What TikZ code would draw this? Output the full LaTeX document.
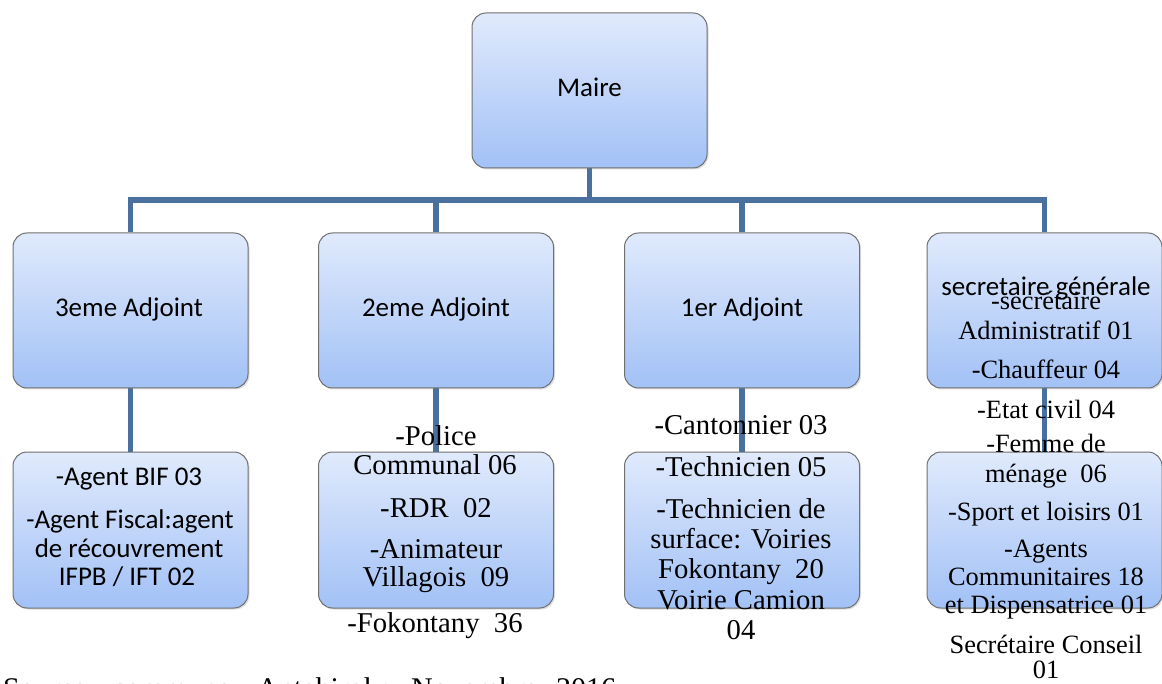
\documentclass[tikz,border=0pt]{standalone}
\usepackage{fontspec}
\setmainfont{Liberation Serif}
\newfontfamily\carl{Carlito}
\usetikzlibrary{shadows}
\definecolor{connc}{RGB}{74,112,160}
\definecolor{boxtop}{RGB}{224,234,252}
\definecolor{boxbot}{RGB}{162,193,246}
\definecolor{boxline}{RGB}{112,112,112}
\pgfdeclarelayer{bg}
\pgfsetlayers{bg,main}
\begin{document}
\begin{tikzpicture}[x=1pt,y=-1pt,
  box/.style={draw=boxline, line width=1pt, rounded corners=14pt,
    top color=boxtop, bottom color=boxbot,
    minimum width=235pt, minimum height=155pt, inner sep=0pt,
    drop shadow={opacity=0.25, shadow xshift=1.5pt, shadow yshift=-1.5pt}},
  conn/.style={draw=connc, line width=5.5pt},
  serif/.style={anchor=base, inner sep=0pt, font=\fontsize{28.7}{30}\selectfont},
  serifs/.style={anchor=base, inner sep=0pt, font=\fontsize{26.4}{28}\selectfont},
  srcfont/.style={anchor=base west, inner sep=0pt, font=\fontsize{30}{32}\selectfont},
  sans/.style={anchor=base, inner sep=0pt, font=\carl\fontsize{27}{29}\selectfont}]
\useasboundingbox (0,0) rectangle (1162,684);
\clip (0,0) rectangle (1162,684);
\begin{pgfonlayer}{bg}
  \fill[white] (0,0) rectangle (1162,684);
\end{pgfonlayer}

% boxes
\node[box] (maire) at (589.5,90.5) {};
\node[box] (a3) at (130.5,310.5) {};
\node[box] (a2) at (436,310.5) {};
\node[box] (a1) at (742,310.5) {};
\node[box] (sg) at (1044.5,310.5) {};
\node[box, minimum height=156pt] (c3) at (130.5,530) {};
\node[box, minimum height=156pt] (c2) at (436,530) {};
\node[box, minimum height=156pt] (c1) at (742,530) {};
\node[box, minimum height=156pt] (c4) at (1044.5,530) {};

% connectors
\coordinate (bus) at (589.5,200);
\begin{pgfonlayer}{bg}
  \draw[conn] (maire.south) -- (bus);
  \draw[conn] (a3.north) |- (bus) -| (sg.north);
  \draw[conn] (a2.north) -- (a2.north |- bus);
  \draw[conn] (a1.north) -- (a1.north |- bus);
  \draw[conn] (a3.south) -- (c3.north);
  \draw[conn] (a2.south) -- (c2.north);
  \draw[conn] (a1.south) -- (c1.north);
  \draw[conn] (sg.south) -- (c4.north);
\end{pgfonlayer}

% titles
\node[sans] (tmaire) at (589.5,97) {Maire};
\node[sans] (ta3) at (129,317) {3eme Adjoint};
\node[sans] (ta2) at (436,317) {2eme Adjoint};
\node[sans] (ta1) at (742,317) {1er Adjoint};
\node[sans] (tsg) at (1046,296) {secretaire générale};

% column 1
\node[sans] (p1a) at (129,485) {-Agent BIF 03};
\node[sans] (p1b) at (130,528) {-Agent Fiscal:agent};
\node[sans] (p1c) at (129,557) {de récouvrement};
\node[sans] (p1d) at (127,585) {IFPB / IFT 02};

% column 2
\node[serif] (p2a) at (436,445) {-Police};
\node[serif] (p2b) at (435,474) {Communal 06};
\node[serif] (p2c) at (436,517) {-RDR\ \ 02};
\node[serif] (p2d) at (436,558) {-Animateur};
\node[serif] (p2e) at (436,586) {Villagois\ \ 09};
\node[serif] (p2f) at (435,632) {-Fokontany\ \ 36};

% column 3
\node[serif] (p3a) at (741,435) {-Cantonnier 03};
\node[serif] (p3b) at (741,476) {-Technicien 05};
\node[serif] (p3c) at (741,518) {-Technicien de};
\node[serif] (p3d) at (741,548) {surface: Voiries};
\node[serif] (p3e) at (741,578) {Fokontany\ \ 20};
\node[serif] (p3f) at (741,609) {Voirie Camion};
\node[serif] (p3g) at (741,639) {04};

% column 4
\node[serifs] (p4a) at (1046,310) {-secrétaire};
\node[serifs] (p4b) at (1046,340) {Administratif 01};
\node[serifs] (p4c) at (1046,379) {-Chauffeur 04};
\node[serifs] (p4d) at (1046,419) {-Etat civil 04};
\node[serifs] (p4e) at (1046,453) {-Femme de};
\node[serifs] (p4f) at (1046,482) {ménage\ \ 06};
\node[serifs] (p4g) at (1046,520) {-Sport et loisirs 01};
\node[serifs] (p4h) at (1046,557) {-Agents};
\node[serifs] (p4i) at (1046,585) {Communitaires 18};
\node[serifs] (p4j) at (1046,613) {et Dispensatrice 01};
\node[serifs] (p4k) at (1046,653) {Secrétaire Conseil};
\node[serifs] (p4l) at (1046,678) {01};

% source line (cut by the lower edge)
\node[srcfont] (src1) at (3,698) {Source : commune};
\node[srcfont] (src2) at (257,698) {Antehiroka,};
\node[srcfont] (src3) at (411,698) {Novembre};
\node[srcfont] (src4) at (556,698) {2016};
\end{tikzpicture}
\end{document}
